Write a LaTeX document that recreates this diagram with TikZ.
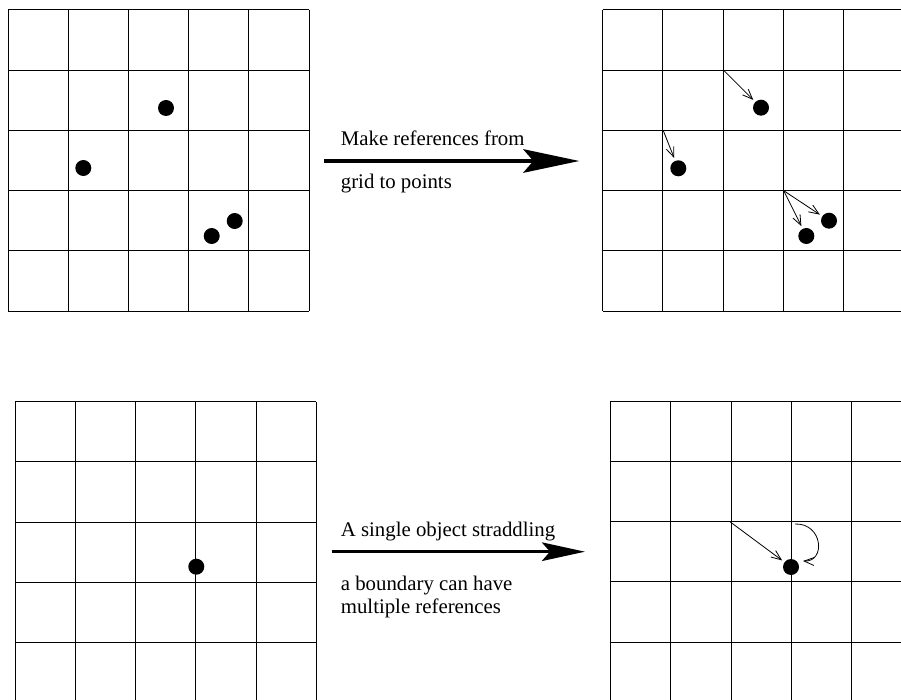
\documentclass[tikz,border=0pt]{standalone}
\usepackage{fontspec}
\setmainfont{Liberation Serif}
\usetikzlibrary{arrows.meta}
\begin{document}
\begin{tikzpicture}[x=1pt,y=-1pt,
  gridline/.style={line width=1pt,black},
  dot/.style={circle,fill=black,inner sep=0pt,minimum size=16pt,outer sep=3pt},
  ref/.style={line width=0.8pt,-{Straight Barb[length=10pt,width=8pt,line width=0.8pt]}},
  bigarrow/.style={line width=3.5pt},
  lbl/.style={anchor=base west,inner sep=0pt,font=\fontsize{20.8}{23.3}\selectfont}]
\useasboundingbox (0,0) rectangle (901,700);
% top-left grid
\foreach \i in {0,...,5} {
  \draw[gridline] (8+60.2*\i,10) -- (8+60.2*\i,311);
  \draw[gridline] (8,10+60.2*\i) -- (309,10+60.2*\i);
}
\node[dot] (a1) at (166,108) {};
\node[dot] (a2) at (83.3,168) {};
\node[dot] (a3) at (211.7,236) {};
\node[dot] (a4) at (234.7,221) {};
% top-right grid
\foreach \i in {0,...,5} {
  \draw[gridline] (602.7+60.2*\i,10) -- (602.7+60.2*\i,311);
  \draw[gridline] (602.7,10+60.2*\i) -- (903.7,10+60.2*\i);
}
\node[dot] (b1) at (761,107.7) {};
\node[dot] (b2) at (678.3,168.3) {};
\node[dot] (b3) at (806.3,236) {};
\node[dot] (b4) at (829,220.7) {};
\coordinate (c1) at (723.7,70.3);
\coordinate (c2) at (663.3,130.7);
\coordinate (c3) at (783.7,190.7);
\draw[ref] (c1) -- (b1);
\draw[ref] (c2) -- (b2);
\draw[ref] (c3) -- (b3);
\draw[ref] (c3) -- (b4);
% bottom-left grid
\foreach \i in {0,...,5} {
  \draw[gridline] (15.3+60.2*\i,401.7) -- (15.3+60.2*\i,703);
  \draw[gridline] (15.3,401.7+60.2*\i) -- (316.3,401.7+60.2*\i);
}
\node[dot] (d1) at (196.3,566.7) {};
% bottom-right grid
\foreach \i in {0,...,5} {
  \draw[gridline] (610.7+60.2*\i,401.3) -- (610.7+60.2*\i,703);
  \draw[gridline] (610.7,401.3+60.2*\i) -- (911.7,401.3+60.2*\i);
}
\node[dot] (e1) at (791,567) {};
\coordinate (f1) at (730.3,522);
\coordinate (f2) at (795,524);
\coordinate (f3) at (803,561);
\draw[ref] (f1) -- (e1);
\draw[ref] (f2) .. controls (823,523) and (826,562) .. (f3);
% big arrows
\coordinate (t1) at (324,161);
\coordinate (t2) at (579.3,161);
\draw[bigarrow,-{Stealth[length=56pt,width=23.5pt,inset=10pt]}] (t1) -- (t2);
\coordinate (u1) at (331.7,551.7);
\coordinate (u2) at (585,551.7);
\draw[bigarrow,-{Stealth[length=43pt,width=18.5pt,inset=8pt]}] (u1) -- (u2);
% labels
\node[lbl] (l1) at (340.7,146) {Make references from};
\node[lbl] (l2) at (340.7,188.3) {grid to points};
\node[lbl] (l3) at (340.7,536.7) {A single object straddling};
\node[lbl] (l4) at (340.7,590.3) {a boundary can have};
\node[lbl] (l5) at (340.7,613.3) {multiple references};
\end{tikzpicture}
\end{document}
